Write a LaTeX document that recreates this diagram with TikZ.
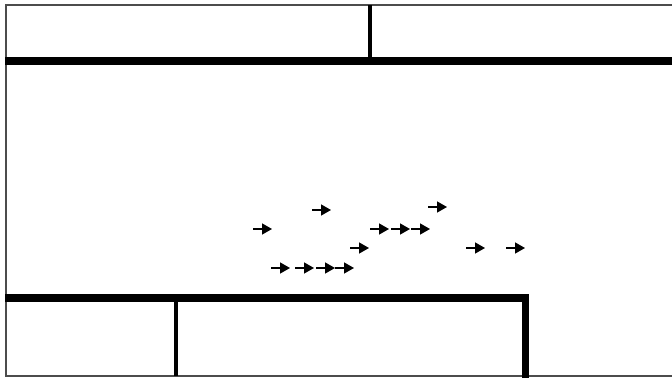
\documentclass[tikz,border=0pt]{standalone}
\usetikzlibrary{arrows.meta}
\begin{document}
\begin{tikzpicture}[x=1pt, y=-1pt,
  wall/.style={line width=8pt},
  thinwall/.style={line width=1.8pt, black!70},
  divider/.style={line width=4pt},
  agent/.style={line width=1.4pt, -{Triangle[length=10pt, width=11pt]}}]
  \useasboundingbox (0,0) rectangle (672,378);
  % Outer thin border
  \draw[thinwall] (672,5) -- (6,5) -- (6,376) -- (672,376);
  % Upper wall and its divider
  \draw[wall] (5,61) -- (672,61);
  \draw[divider] (370,5) -- (370,61);
  % Lower wall, divider and right end
  \draw[wall] (5,298) -- (529,298);
  \draw[line width=7pt] (525.5,298) -- (525.5,378);
  \draw[divider] (175.5,298) -- (175.5,376);
  % Agents moving right
  \foreach \x/\y in {263/229, 322/210, 438/207, 380/229, 401/229, 421/229,
                     360/248, 476/248, 516/248, 281/268, 305/268, 326/268, 345/268} {
    \draw[agent] (\x-10,\y) -- (\x+9,\y);
  }
\end{tikzpicture}
\end{document}
